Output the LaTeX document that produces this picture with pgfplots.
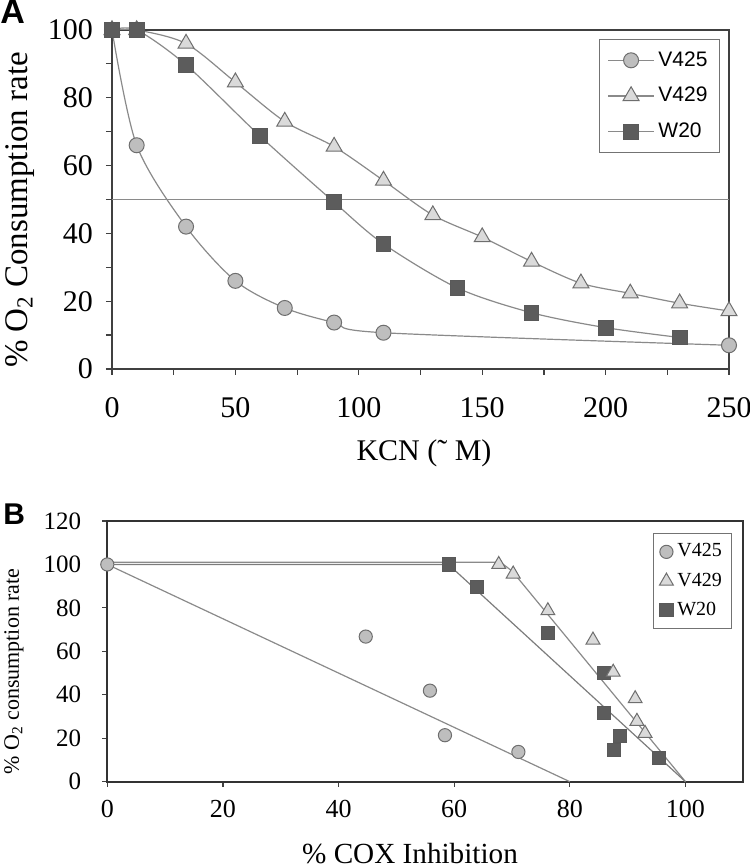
\documentclass[border=0pt]{standalone}
\usepackage{fontspec}
\setmainfont{Liberation Serif}
\newfontfamily\arial{Liberation Sans}
\usepackage{pgfplots}
\pgfplotsset{compat=1.18}

\definecolor{circfill}{HTML}{BEBEBE}
\definecolor{trifill}{HTML}{DADADA}
\definecolor{sqfill}{HTML}{5C5C5C}
\definecolor{edge}{HTML}{6E6E6E}
\definecolor{linegray}{HTML}{8A8A8A}

\pgfplotsset{
  circ/.style={mark=*, mark size=3.75pt, mark options={fill=circfill, draw=edge, line width=0.5pt, solid}},
  tri/.style={mark=triangle*, mark size=4.6pt, mark options={fill=trifill, draw=edge, line width=0.5pt, solid}},
  sq/.style={mark=square*, mark size=3.7pt, mark options={fill=sqfill, draw=black!65, line width=0.5pt, solid}},
}

\begin{document}
\begin{tikzpicture}
\path[use as bounding box] (0,0) rectangle (375pt,434pt);
\node[anchor=north west, inner sep=0pt, font=\arial\bfseries\fontsize{17}{17}\selectfont] at (0pt,434pt) {A};
\node[anchor=north west, inner sep=0pt, font=\arial\bfseries\fontsize{15}{15}\selectfont] at (1.5pt,182.5pt) {B};

% panel A
\begin{axis}[
  at={(56pt,249.5pt)}, anchor=south west,
  scale only axis, width=308.5pt, height=169.5pt,
  xmin=0, xmax=250, ymin=0, ymax=100,
  xtick={0,50,...,250}, minor xtick={25,75,...,225},
  ytick={0,20,...,100}, minor ytick={10,30,...,90},
  tick align=outside, tick pos=left,
  major tick length=3pt, minor tick length=3pt,
  tick style={black!75, line width=0.6pt},
  axis line style={black!75, line width=0.8pt},
  ticklabel style={font=\fontsize{15}{15}\selectfont},
  xticklabel style={yshift=-7.5pt},
  yticklabel style={xshift=-3pt},
  /pgf/number format/assume math mode=true,
  clip=false,
  xlabel={KCN (˜ M)},
  xlabel style={at={(axis description cs:0.5057,-0.248)}, anchor=center, font=\fontsize{15}{15}\selectfont},
  ylabel={\% O\textsubscript{2} Consumption rate},
  ylabel style={at={(axis description cs:-0.149,0.469)}, anchor=center, font=\fontsize{16.5}{16.5}\selectfont},
  legend style={at={(0.9854,0.9735)}, anchor=north east, draw=black!55, line width=0.5pt,
    font=\arial\fontsize{10.5}{12}\selectfont, row sep=5pt, inner sep=4pt},
  legend cell align=left,
  legend image code/.code={\draw[mark repeat=2, mark phase=2] plot coordinates {(0cm,0cm) (0.4cm,0cm) (0.8cm,0cm)};},
]
\addplot[forget plot, linegray, line width=0.5pt] coordinates {(0,50) (250,50)};
\addplot[linegray, line width=0.6pt, smooth, circ] coordinates {
  (0,100) (10,66) (30,42) (50,26) (70,18) (90,13.7) (110,10.7) (250,7)};
\addlegendentry{V425}
\addplot[linegray, line width=0.6pt, smooth, tri] coordinates {
  (0,100) (10,100) (30,96) (50,84.6) (70,73) (90,65.6) (110,55.6) (130,45.4)
  (150,38.9) (170,31.7) (190,25.3) (210,22.3) (230,19.4) (250,17.1)};
\addlegendentry{V429}
\addplot[linegray, line width=0.6pt, smooth, sq] coordinates {
  (0,100) (10,100) (30,89.7) (60,68.7) (90,49.2) (110,36.9) (140,23.9)
  (170,16.6) (200,12.2) (230,9.3)};
\addlegendentry{W20}
\end{axis}

% panel B
\begin{axis}[
  at={(53.65pt,43.15pt)}, anchor=south west,
  scale only axis, width=318pt, height=130.35pt,
  xmin=0, xmax=110, ymin=0, ymax=120,
  xtick={0,20,...,100}, ytick={0,20,...,120},
  tick align=outside, tick pos=left,
  major tick length=2.5pt,
  tick style={black!75, line width=0.6pt},
  axis line style={black!80, line width=0.9pt},
  xticklabel style={font=\fontsize{13}{13}\selectfont, yshift=-3pt},
  yticklabel style={font=\fontsize{12.5}{12.5}\selectfont, xshift=-7pt},
  /pgf/number format/assume math mode=true,
  clip=false,
  xlabel={\% COX Inhibition},
  xlabel style={at={(axis description cs:0.476,-0.312)}, anchor=base, font=\fontsize{14.6}{14.6}\selectfont},
  ylabel={\% O\textsubscript{2} consumption rate},
  ylabel style={at={(axis description cs:-0.1467,0.4227)}, anchor=center, font=\fontsize{11}{11}\selectfont},
  legend style={at={(0.9827,0.953)}, anchor=north east, draw=black!55, line width=0.5pt,
    font=\fontsize{10}{11}\selectfont, row sep=2.5pt, inner sep=3pt},
  legend cell align=left,
  legend image code/.code={\draw[#1] plot coordinates {(0.1cm,0cm)};},
]
\addplot[forget plot, linegray, line width=0.6pt] coordinates {(0,101) (68,101) (70,97) (100,0)};
\addplot[forget plot, linegray!90!black, line width=0.6pt] coordinates {(0,100) (59,100) (100,0)};
\addplot[forget plot, linegray, line width=0.6pt] coordinates {(0,100) (80,0)};
\addplot[forget plot, only marks, sq, mark size=3.3pt] coordinates {
  (59.1,100) (63.9,89.5) (76.2,68.6) (85.9,49.9) (85.9,31.5) (88.7,21) (87.7,14.6) (95.4,10.8)};
\addplot[only marks, circ, mark size=3.3pt] coordinates {
  (0,100) (44.7,66.8) (55.8,41.9) (58.4,21.4) (71.1,13.7)};
\addlegendentry{V425}
\addplot[only marks, tri, mark size=4pt] coordinates {
  (67.7,100) (70.2,95.6) (76.2,78.7) (84,65.2) (87.5,50.4) (91.3,38.2) (91.6,27.8) (93,22.3)};
\addlegendentry{V429}
\addlegendimage{only marks, sq, mark size=3.3pt}
\addlegendentry{W20}
\end{axis}
\end{tikzpicture}
\end{document}
